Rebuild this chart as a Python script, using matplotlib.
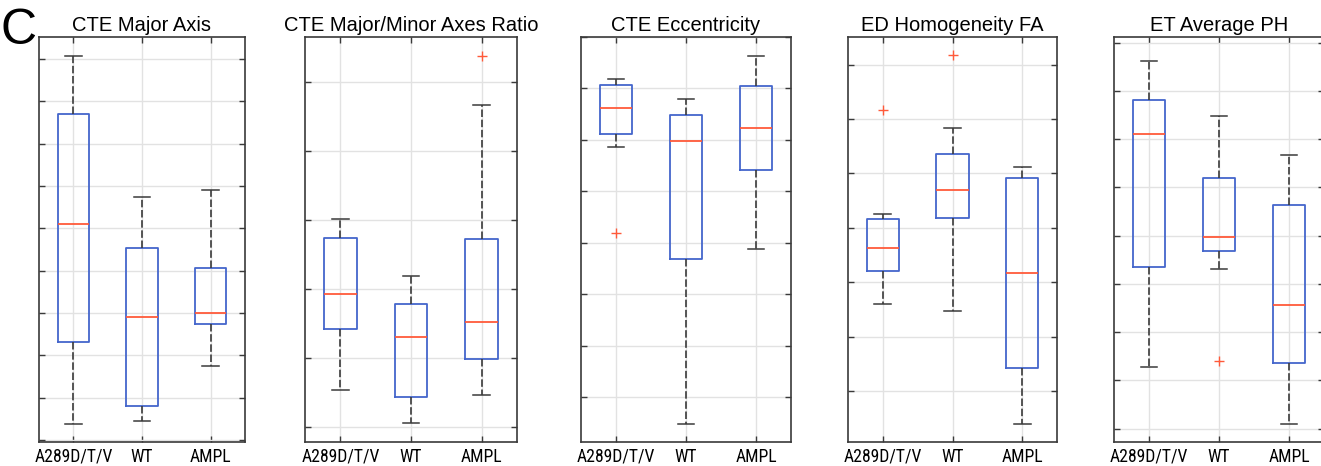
import matplotlib
matplotlib.use("Agg")
import matplotlib.pyplot as plt
from matplotlib import font_manager

# Groups shown on every panel
groups = ["A289D/T/V", "WT", "AMPL"]

# Panel titles
titles = [
    "CTE Major Axis",
    "CTE Major/Minor Axes Ratio",
    "CTE Eccentricity",
    "ED Homogeneity FA",
    "ET Average PH",
]

# Box statistics per panel, one entry per group:
# lower whisker, first quartile, median, third quartile, upper whisker
major_axis_lo = [0.38, 0.44, 1.75]
major_axis_q1 = [2.32, 0.80, 2.73]
major_axis_med = [5.10, 2.91, 3.00]
major_axis_q3 = [7.69, 4.54, 4.05]
major_axis_hi = [9.08, 5.73, 5.90]
major_axis_out = [[], [], []]

ratio_lo = [0.54, 0.06, 0.47]
ratio_q1 = [1.42, 0.43, 0.99]
ratio_med = [1.93, 1.30, 1.52]
ratio_q3 = [2.74, 1.78, 2.72]
ratio_hi = [3.02, 2.19, 4.66]
ratio_out = [[], [], [5.38]]

ecc_lo = [4.86, -0.52, 2.89]
ecc_q1 = [5.12, 2.69, 4.42]
ecc_med = [5.63, 4.97, 5.24]
ecc_q3 = [6.07, 5.49, 6.05]
ecc_hi = [6.18, 5.79, 6.63]
ecc_out = [[3.20], [], []]

homog_lo = [1.59, 1.47, -0.61]
homog_q1 = [2.21, 3.18, 0.43]
homog_med = [2.62, 3.70, 2.17]
homog_q3 = [3.16, 4.35, 3.91]
homog_hi = [3.25, 4.83, 4.12]
homog_out = [[5.17], [6.17], []]

ph_lo = [1.27, 3.31, 0.10]
ph_q1 = [3.36, 3.69, 1.35]
ph_med = [6.10, 3.97, 2.57]
ph_q3 = [6.82, 5.19, 4.64]
ph_hi = [7.62, 6.48, 5.67]
ph_out = [[], [1.40], []]

panels = [
    (major_axis_lo, major_axis_q1, major_axis_med, major_axis_q3, major_axis_hi, major_axis_out),
    (ratio_lo, ratio_q1, ratio_med, ratio_q3, ratio_hi, ratio_out),
    (ecc_lo, ecc_q1, ecc_med, ecc_q3, ecc_hi, ecc_out),
    (homog_lo, homog_q1, homog_med, homog_q3, homog_hi, homog_out),
    (ph_lo, ph_q1, ph_med, ph_q3, ph_hi, ph_out),
]

# Y ranges and tick counts for each panel (no tick labels are shown)
y_limits = [(-0.05, 9.52), (-0.217, 5.65), (-0.87, 7.0), (-0.94, 6.51), (-0.28, 8.12)]
y_tick_max = [9, 5, 7, 6, 8]

# Axes placement in pixels (left, right)
W, H = 1321, 466
x_extents = [(39, 245), (305, 517), (581, 791), (848, 1057), (1114, 1324)]
top_px, bottom_px = 37, 442

box_color = "#4466cc"
median_color = "#ff5a3a"
whisker_color = "#3a3a3a"
spine_color = "#3a3a3a"
grid_color = "#e2e2e2"


def first_available(names):
    for name in names:
        try:
            font_manager.findfont(font_manager.FontProperties(family=name),
                                  fallback_to_default=False)
            return name
        except ValueError:
            continue
    return None


# Narrow face for the group labels when one is installed
narrow = first_available(["Liberation Sans Narrow", "Roboto Condensed", "Open Sans Condensed"])
if narrow is not None:
    tick_font = [narrow, "Liberation Sans", "DejaVu Sans"]
    tick_size = 12.7
else:
    tick_font = ["Liberation Sans", "DejaVu Sans"]
    tick_size = 11.5
title_font = ["Liberation Sans", "DejaVu Sans"]

fig = plt.figure(figsize=(W / 100, H / 100), dpi=100)

for i, (lo, q1, med, q3, hi, out) in enumerate(panels):
    left, right = x_extents[i]
    ax = fig.add_axes([left / W, 1 - bottom_px / H, (right - left) / W, (bottom_px - top_px) / H])

    stats = []
    for g in range(len(groups)):
        stats.append(dict(whislo=lo[g], q1=q1[g], med=med[g], q3=q3[g],
                          whishi=hi[g], fliers=out[g], label=groups[g]))

    ax.bxp(
        stats,
        positions=[1, 2, 3],
        widths=0.46,
        capwidths=0.24,
        showfliers=True,
        boxprops=dict(color=box_color, linewidth=1.3),
        medianprops=dict(color=median_color, linewidth=1.3),
        whiskerprops=dict(color=whisker_color, linewidth=1.2, linestyle=(0, (4.5, 1.6))),
        capprops=dict(color=whisker_color, linewidth=1.1),
        flierprops=dict(marker="+", markeredgecolor=median_color, markersize=7,
                        markeredgewidth=1.0, linestyle="none"),
        zorder=3,
    )

    ax.set_xlim(0.5, 3.5)
    ax.set_ylim(*y_limits[i])
    ax.set_yticks(range(0, y_tick_max[i] + 1))
    ax.set_yticklabels([])
    ax.set_xticks([1, 2, 3])
    ax.set_xticklabels(groups, fontsize=tick_size, family=tick_font)

    ax.tick_params(axis="both", direction="in", length=4, width=1.0, color=spine_color,
                   top=True, right=True, labelcolor="black")
    ax.tick_params(axis="x", pad=4)

    ax.grid(True, color=grid_color, linewidth=1.0, zorder=0)
    ax.set_axisbelow(True)
    for sp in ax.spines.values():
        sp.set_color(spine_color)
        sp.set_linewidth(1.2)

    ax.set_title(titles[i], fontsize=14.5, family=title_font, pad=4.5)

fig.text(0.0005, 1 - 44 / H, "C", fontsize=36, family=title_font, va="baseline", ha="left")

fig.savefig("out.png", dpi=100)
